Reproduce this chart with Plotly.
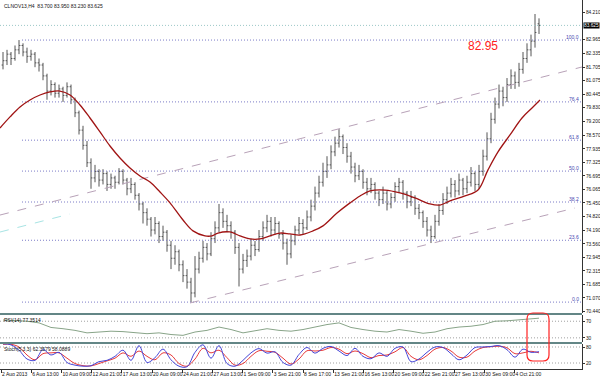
import plotly.graph_objects as go

# ---------------- data ----------------
title_text = "CLNOV13,H4  83.700 83.950 83.230 83.625"
rsi_title = "RSI(14) 77.3514"
stoch_title = "Stoch(5,3,3) 62.3579 58.0889"

opens = [81.8, 82.0, 82.3, 82.1, 82.5, 82.7, 82.4, 82.2, 82.3, 81.9,
         81.8, 81.3, 80.6, 80.9, 80.5, 80.7, 80.4, 80.8, 80.2, 79.6,
         78.8, 78.1, 77.3, 76.6, 76.9, 76.5, 76.8, 76.3, 76.6, 76.4,
         76.9, 76.5, 76.1, 76.3, 75.8, 75.4, 75.0, 74.7, 74.2, 74.5,
         73.9, 74.1, 73.5, 72.9, 73.2, 72.6, 72.1, 71.8, 71.3, 72.4,
         72.9, 73.4, 73.1, 73.8, 74.3, 75.0, 74.6, 74.4, 74.1, 73.4,
         72.4, 72.8, 73.0, 73.5, 73.3, 73.9, 74.3, 74.6, 74.2, 74.5,
         74.0, 73.6, 73.1, 73.7, 74.2, 74.5, 74.3, 74.8, 75.3, 75.9,
         76.4, 76.9, 77.2, 77.8, 78.2, 78.5, 78.0, 77.6, 77.1, 76.7,
         76.9, 76.4, 76.1, 76.3, 75.9, 75.6, 75.9, 75.4, 75.7, 76.2,
         76.4, 75.9, 75.5, 75.7, 75.2, 75.0, 74.6, 74.2, 73.9, 74.6,
         75.1, 75.6, 75.9, 76.3, 76.0, 76.5, 76.1, 76.4, 76.8, 76.3,
         76.9, 77.6, 78.4, 79.3, 80.0, 80.6, 80.3, 80.9, 81.3, 81.0,
         81.6, 82.1, 82.5, 82.9, 83.7]
highs = [82.4, 82.5, 82.4, 82.7, 82.95, 82.8, 82.6, 82.5, 82.4, 82.1,
         81.9, 81.4, 81.1, 81.0, 80.9, 80.8, 81.0, 80.9, 80.3, 79.7,
         79.0, 78.3, 77.5, 77.2, 77.0, 77.0, 76.9, 76.8, 76.7, 77.05,
         77.0, 76.6, 76.6, 76.4, 75.9, 75.5, 75.2, 74.8, 74.8, 74.6,
         74.4, 74.2, 73.7, 73.5, 73.3, 72.8, 72.4, 72.0, 73.0, 73.2,
         73.7, 73.6, 74.1, 74.6, 75.4, 75.2, 74.9, 74.6, 74.2, 73.6,
         73.1, 73.3, 73.8, 73.7, 74.2, 74.6, 74.9, 74.8, 74.8, 74.6,
         74.2, 73.8, 74.0, 74.4, 74.8, 74.7, 75.1, 75.6, 76.2, 76.7,
         77.3, 77.6, 78.1, 78.5, 78.85, 78.6, 78.2, 77.8, 77.3, 77.2,
         77.0, 76.6, 76.6, 76.4, 76.0, 76.2, 76.0, 75.9, 76.4, 76.6,
         76.5, 76.0, 76.0, 75.8, 75.4, 75.1, 74.8, 74.4, 74.9, 75.4,
         75.9, 76.2, 76.6, 76.5, 76.8, 76.6, 76.7, 77.1, 76.9, 77.2,
         77.9, 78.7, 79.6, 80.3, 80.9, 80.8, 81.2, 81.6, 81.5, 81.9,
         82.4, 82.8, 83.2, 84.15, 83.95]
lows = [81.6, 81.8, 81.8, 82.0, 82.3, 82.2, 81.9, 82.0, 81.7, 81.5,
        81.1, 80.2, 80.4, 80.3, 80.3, 80.1, 80.3, 80.0, 79.4, 78.6,
        77.9, 77.1, 76.1, 76.4, 76.2, 76.3, 76.0, 76.1, 76.1, 76.3,
        76.3, 75.8, 75.9, 75.6, 75.1, 74.5, 74.4, 73.9, 74.0, 73.6,
        73.7, 73.2, 72.4, 72.6, 72.3, 71.8, 71.5, 70.88, 71.1, 72.2,
        72.7, 72.8, 73.0, 73.6, 74.1, 74.3, 74.1, 73.8, 73.1, 71.6,
        72.2, 72.5, 72.8, 73.0, 73.2, 73.7, 74.1, 73.9, 74.0, 73.8,
        73.3, 72.6, 72.9, 73.5, 74.0, 74.0, 74.2, 74.6, 75.1, 75.7,
        76.2, 76.6, 77.0, 77.6, 78.0, 77.7, 77.3, 76.8, 76.4, 76.5,
        76.1, 75.8, 75.9, 75.6, 75.3, 75.4, 75.1, 75.2, 75.5, 75.9,
        75.6, 75.2, 75.3, 74.9, 74.7, 74.3, 73.9, 73.6, 73.8, 74.4,
        74.9, 75.4, 75.7, 75.7, 75.8, 75.8, 75.9, 76.2, 76.0, 76.1,
        76.7, 77.4, 78.2, 79.1, 79.8, 79.9, 80.1, 80.7, 80.7, 80.8,
        81.4, 81.9, 82.2, 82.6, 83.23]
closes = [82.0, 82.3, 82.1, 82.5, 82.7, 82.4, 82.2, 82.3, 81.9, 81.8,
          81.3, 80.6, 80.9, 80.5, 80.7, 80.4, 80.8, 80.2, 79.6, 78.8,
          78.1, 77.3, 76.6, 76.9, 76.5, 76.8, 76.3, 76.6, 76.4, 76.9,
          76.5, 76.1, 76.3, 75.8, 75.4, 75.0, 74.7, 74.2, 74.5, 73.9,
          74.1, 73.5, 72.9, 73.2, 72.6, 72.1, 71.8, 71.3, 72.4, 72.9,
          73.4, 73.1, 73.8, 74.3, 75.0, 74.6, 74.4, 74.1, 73.4, 72.4,
          72.8, 73.0, 73.5, 73.3, 73.9, 74.3, 74.6, 74.2, 74.5, 74.0,
          73.6, 73.1, 73.7, 74.2, 74.5, 74.3, 74.8, 75.3, 75.9, 76.4,
          76.9, 77.2, 77.8, 78.2, 78.5, 78.0, 77.6, 77.1, 76.7, 76.9,
          76.4, 76.1, 76.3, 75.9, 75.6, 75.9, 75.4, 75.7, 76.2, 76.4,
          75.9, 75.5, 75.7, 75.2, 75.0, 74.6, 74.2, 73.9, 74.6, 75.1,
          75.6, 75.9, 76.3, 76.0, 76.5, 76.1, 76.4, 76.8, 76.3, 76.9,
          77.6, 78.4, 79.3, 80.0, 80.6, 80.3, 80.9, 81.3, 81.0, 81.6,
          82.1, 82.5, 82.9, 83.3, 83.625]
bars = list(range(len(closes)))

# moving average (bar index, price)
ma_x = [-0.75, 1.75, 4.25, 6.75, 9.25, 11.75, 14.25, 16.75, 19.25, 21.75,
        24.25, 26.75, 29.25, 31.75, 34.25, 36.75, 39.25, 41.75, 45, 47.5,
        50.5, 52.25, 53.75, 56.75, 59.25, 61.75, 64.25, 66.75, 69.25, 71.75,
        74.25, 77.5, 80, 83.5, 86.75, 89.25, 91.75, 95.5, 99.25, 103,
        106.75, 109.25, 111.75, 115.5, 118.75, 121.25, 123.75, 126.75, 129.75, 132.25,
        134.25]
ma_y = [78.90, 79.41, 79.87, 80.19, 80.42, 80.56, 80.60, 80.42, 79.96, 79.36,
        78.72, 78.07, 77.52, 77.06, 76.69, 76.41, 75.95, 75.45, 74.66, 74.16,
        73.93, 73.93, 74.06, 74.11, 73.93, 73.79, 73.79, 73.93, 74.06, 74.02,
        73.97, 74.16, 74.39, 74.98, 75.45, 75.77, 76.00, 76.04, 75.91, 75.68,
        75.40, 75.35, 75.54, 75.77, 76.04, 76.97, 77.80, 78.58, 79.36, 79.82,
        80.19]

# RSI values (every 3rd bar plus last)
rsi_x = list(range(0, 135, 3)) + [134]
rsi = [73, 72, 70, 66, 55, 52, 48, 42, 44, 46,
       45, 42, 40, 42, 38, 36, 44, 48, 56, 50,
       42, 47, 52, 48, 46, 50, 56, 62, 66, 55,
       50, 46, 44, 50, 46, 41, 44, 52, 56, 58,
       62, 70, 71, 73, 76, 77.35]

# Stochastic (every 2nd bar)
stoch_x = list(range(0, 135, 2))
stoch_k = [92, 88, 68, 35, 30, 70, 50, 60, 22, 12,
           8, 10, 25, 30, 45, 68, 30, 85, 22, 40,
           72, 32, 8, 6, 60, 88, 38, 85, 18, 8,
           30, 58, 74, 57, 62, 22, 12, 52, 78, 57,
           75, 82, 65, 48, 75, 45, 36, 58, 45, 75,
           80, 25, 35, 60, 80, 78, 55, 32, 50, 78,
           80, 82, 85, 70, 42, 72, 60, 62.36]
stoch_d = [90, 90, 80, 50, 32, 55, 58, 58, 38, 18,
           10, 9, 18, 28, 38, 58, 45, 65, 45, 32,
           58, 50, 18, 8, 35, 75, 58, 68, 40, 12,
           18, 45, 66, 64, 60, 38, 16, 35, 66, 65,
           68, 78, 72, 55, 65, 55, 40, 48, 50, 62,
           78, 45, 32, 48, 72, 78, 65, 42, 42, 65,
           78, 81, 83, 77, 55, 58, 64, 58.09]

# drawn objects
fib_low, fib_high = 70.88, 82.95
fib_ratios = [0.0, 0.236, 0.382, 0.5, 0.618, 0.764, 1.0]
fib_labels = ["0.0", "23.6", "38.2", "50.0", "61.8", "76.4", "100.0"]
fib_start = 4.75
bid_price = 83.625
upper_ch_x, upper_ch_y = [-0.75, 144.75], [74.89, 81.71]
lower_ch_x, lower_ch_y = [46.75, 143.0], [70.84, 75.215]
cyan_seg_x, cyan_seg_y = [-0.75, 16.75], [74.108, 74.94]

y_ticks = ["84.210", "82.965", "82.335", "81.705", "81.075", "80.445", "79.830",
           "79.200", "78.570", "77.935", "77.325", "76.695", "76.065", "75.450",
           "74.820", "74.190", "73.560", "72.945", "72.315", "71.685", "71.070", "70.440"]
x_labels = ["2 Aug 2013", "6 Aug 13:00", "10 Aug 09:00", "12 Aug 21:00", "17 Aug 13:00",
            "20 Aug 09:00", "24 Aug 21:00", "27 Aug 13:00", "1 Sep 09:00", "3 Sep 21:00",
            "8 Sep 17:00", "13 Sep 21:00", "16 Sep 13:00", "20 Sep 09:00", "22 Sep 21:00",
            "27 Sep 13:00", "30 Sep 09:00", "4 Oct 21:00"]

# ---------------- layout helpers ----------------
PW, PH = 582, 369
def pxx(x):
    return x / PW
def pxy(y):
    return 1 - y / PH

FONT = "Liberation Sans, Arial, sans-serif"
fig = go.Figure()

fig.add_trace(go.Ohlc(x=bars, open=opens, high=highs, low=lows, close=closes,
                      increasing=dict(line=dict(color="#555555", width=1)),
                      decreasing=dict(line=dict(color="#555555", width=1)),
                      tickwidth=0.35, xaxis="x", yaxis="y", hoverinfo="skip"))

# fib levels
fib_prices = [fib_low + r * (fib_high - fib_low) for r in fib_ratios]
for p, lab in zip(fib_prices, fib_labels):
    fig.add_trace(go.Scatter(x=[fib_start, 144.75], y=[p, p], mode="lines",
                             line=dict(color="#7c7cc8", width=1, dash="1px,2px"),
                             xaxis="x", yaxis="y", hoverinfo="skip"))
    fig.add_annotation(x=pxx(580), xref="paper", y=p, yref="y", text=lab,
                       showarrow=False, xanchor="right", yanchor="bottom",
                       font=dict(size=5, color="#4848b0", family=FONT),
                       borderpad=0, yshift=-1)

# bid line
fig.add_trace(go.Scatter(x=[-0.75, 144.75], y=[bid_price, bid_price], mode="lines",
                         line=dict(color="#9cc8c8", width=1, dash="1px,2px"),
                         xaxis="x", yaxis="y", hoverinfo="skip"))

# channels
fig.add_trace(go.Scatter(x=upper_ch_x, y=upper_ch_y, mode="lines",
                         line=dict(color="#b8a2b8", width=1, dash="dash"),
                         xaxis="x", yaxis="y", hoverinfo="skip"))
fig.add_trace(go.Scatter(x=lower_ch_x, y=lower_ch_y, mode="lines",
                         line=dict(color="#b8a2b8", width=1, dash="dash"),
                         xaxis="x", yaxis="y", hoverinfo="skip"))
fig.add_trace(go.Scatter(x=cyan_seg_x, y=cyan_seg_y, mode="lines",
                         line=dict(color="#a8e4e4", width=1, dash="dash"),
                         xaxis="x", yaxis="y", hoverinfo="skip"))

# MA
fig.add_trace(go.Scatter(x=ma_x, y=ma_y, mode="lines", line_shape="spline",
                         line=dict(color="#a01414", width=1.3),
                         xaxis="x", yaxis="y", hoverinfo="skip"))

# RSI
for lv in (70, 30):
    fig.add_trace(go.Scatter(x=[-0.75, 144.75], y=[lv, lv], mode="lines",
                             line=dict(color="#a0a0a0", width=1, dash="1px,2px"),
                             xaxis="x", yaxis="y2", hoverinfo="skip"))
fig.add_trace(go.Scatter(x=rsi_x, y=rsi, mode="lines",
                         line=dict(color="#88a488", width=1),
                         xaxis="x", yaxis="y2", hoverinfo="skip"))

# Stochastic
for lv in (80, 20):
    fig.add_trace(go.Scatter(x=[-0.75, 144.75], y=[lv, lv], mode="lines",
                             line=dict(color="#a0a0a0", width=1, dash="1px,2px"),
                             xaxis="x", yaxis="y3", hoverinfo="skip"))
fig.add_trace(go.Scatter(x=stoch_x, y=stoch_d, mode="lines", line_shape="spline",
                         line=dict(color="#e83a3a", width=1),
                         xaxis="x", yaxis="y3", hoverinfo="skip"))
fig.add_trace(go.Scatter(x=stoch_x, y=stoch_k, mode="lines", line_shape="spline",
                         line=dict(color="#4646d8", width=1),
                         xaxis="x", yaxis="y3", hoverinfo="skip"))

axis_common = dict(showgrid=False, zeroline=False, showline=True, linecolor="#333",
                   linewidth=1, ticks="outside", ticklen=2, tickcolor="#333",
                   ticklabelstandoff=0,
                   tickfont=dict(size=4.8, color="#111", family=FONT), side="right",
                   anchor="x")

fig.update_layout(
    width=600, height=376, margin=dict(l=0, r=18, t=0, b=7, autoexpand=False),
    paper_bgcolor="white", plot_bgcolor="white", showlegend=False,
    xaxis=dict(range=[-0.75, 144.75], showgrid=False, zeroline=False, showline=True,
               linecolor="#333", ticks="outside", ticklen=3, tickcolor="#333",
               tickvals=[-0.5 + 7.55 * k for k in range(len(x_labels))],
               ticktext=x_labels, ticklabelposition="outside right",
               tickfont=dict(size=5, color="#111", family=FONT),
               anchor="y3", rangeslider=dict(visible=False), tickangle=0),
    yaxis=dict(domain=[1 - 313 / PH, 1], range=[70.378, 84.795],
               tickvals=[float(t) for t in y_ticks], ticktext=y_ticks, **axis_common),
    yaxis2=dict(domain=[(PH - 342) / PH, (PH - 315) / PH], range=[20, 85],
                tickvals=[70, 30], ticktext=["70", "30"], **axis_common),
    yaxis3=dict(domain=[0, (PH - 344) / PH], range=[-2.5, 91.25],
                tickvals=[80, 20], ticktext=["80", "20"], **axis_common),
)

# panel separators
for ysep in (314, 343):
    fig.add_shape(type="line", xref="paper", yref="paper", x0=0, x1=1,
                  y0=pxy(ysep), y1=pxy(ysep), line=dict(color="#2f5e5e", width=1.5))

# bid price label
fig.add_annotation(x=1.0, xref="paper", y=bid_price, yref="y", text="83.625",
                   showarrow=False, xanchor="left", xshift=1, bgcolor="#000",
                   font=dict(size=4.8, color="white", family=FONT), borderpad=0)

# red 82.95 text
fig.add_annotation(x=pxx(500), xref="paper", y=pxy(37), yref="paper", text="82.95",
                   showarrow=False, font=dict(size=12, color="#ff2020", family=FONT))

# titles
for txt, yy in ((title_text, 2), (rsi_title, 316), (stoch_title, 345)):
    fig.add_annotation(x=pxx(3), xref="paper", y=pxy(yy), yref="paper", text=txt,
                       showarrow=False, xanchor="left", yanchor="top",
                       font=dict(size=5, color="#111", family=FONT), borderpad=0)

# red rounded rectangle
x0, x1, y0, y1, r = pxx(527), pxx(549), pxy(313), pxy(361), 6
rx, ry = r / PW, r / PH
path = (f"M {x0+rx} {y0} L {x1-rx} {y0} Q {x1} {y0} {x1} {y0-ry} "
        f"L {x1} {y1+ry} Q {x1} {y1} {x1-rx} {y1} L {x0+rx} {y1} "
        f"Q {x0} {y1} {x0} {y1+ry} L {x0} {y0-ry} Q {x0} {y0} {x0+rx} {y0} Z")
fig.add_shape(type="path", path=path, xref="paper", yref="paper",
              line=dict(color="#ff2020", width=1.2))

fig.write_html("out.html")
